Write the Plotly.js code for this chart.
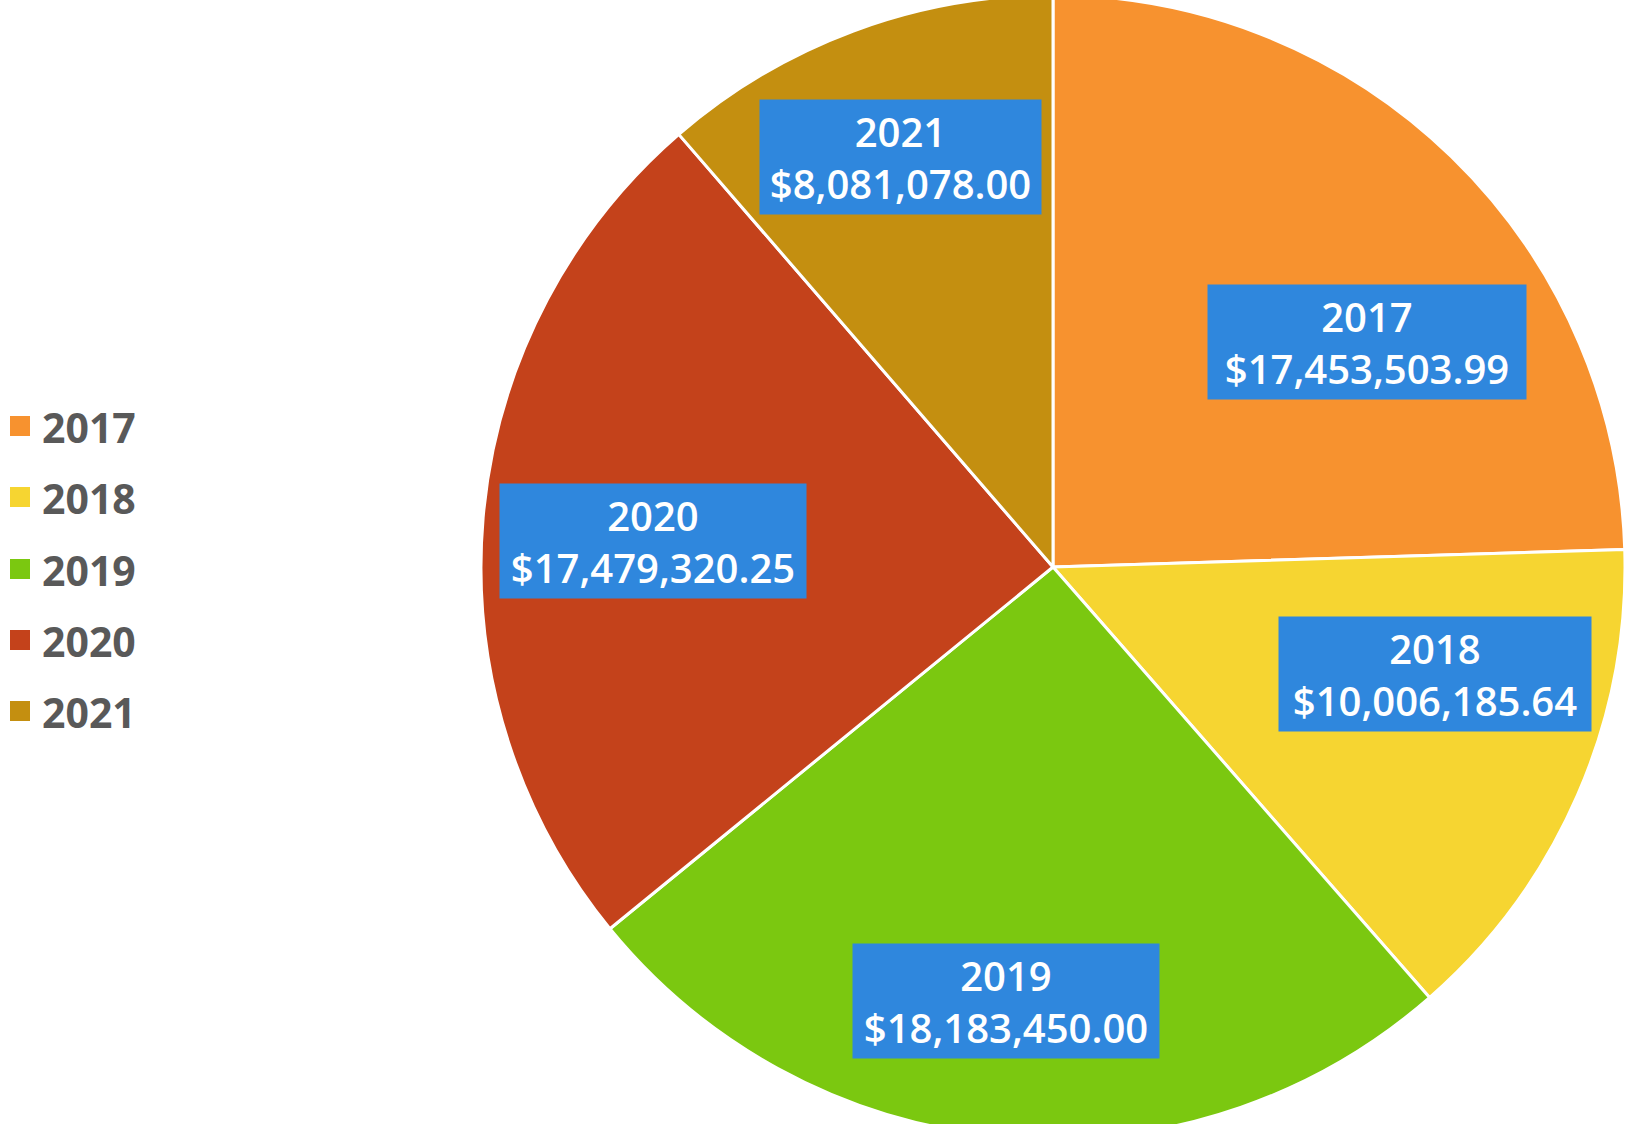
<!DOCTYPE html>
<html>
<head>
<meta charset="utf-8">
<script src="https://cdn.plot.ly/plotly-3.0.1.min.js"></script>
<style>
  html, body { margin: 0; padding: 0; background: #ffffff; overflow: hidden; }
  #chart { width: 1631px; height: 1144px; position: absolute; left: 0; top: -5px; }
</style>
</head>
<body>
<div id="chart"></div>
<script>
// datos del gráfico
const years = ['2017', '2018', '2019', '2020', '2021'];
const amounts = [17453503.99, 10006185.64, 18183450.00, 17479320.25, 8081078.00];
const sliceColors = ['#f7922f', '#f6d531', '#7bc810', '#c4421b', '#c48f10'];

// posiciones de las etiquetas (centro de cada caja, en píxeles de la página)
const labelBoxX = [1367, 1435, 1006, 653, 900];
const labelBoxY = [342, 674, 1001, 541, 157];
const labelBoxW = [318, 312, 306, 306, 281];

const W = 1631, H = 1144, TOP = -5;
const px = x => x / W;
const py = y => 1 - (y - TOP) / H;

const fmt = v => v.toLocaleString('en-US', {style: 'currency', currency: 'USD', minimumFractionDigits: 2});

const R = H / 2, CX = 1053;
const pie = {
    type: 'pie',
    labels: years,
    values: amounts,
    sort: false,
    direction: 'clockwise',
    rotation: 0,
    textinfo: 'none',
    hoverinfo: 'label+value',
    marker: {colors: sliceColors, line: {color: '#ffffff', width: 3}},
    domain: {x: [(CX - R) / W, Math.min(1, (CX + R) / W)], y: [0, 1]},
    showlegend: false
};

const annotations = [];
const shapes = [];

// cajas azules con año y monto
years.forEach((y, i) => {
    annotations.push({
        xref: 'paper', yref: 'paper',
        x: px(labelBoxX[i]), y: py(labelBoxY[i]),
        xanchor: 'center', yanchor: 'middle',
        showarrow: false,
        text: y + '<br>' + fmt(amounts[i]),
        width: labelBoxW[i],
        height: 114,
        bgcolor: '#2f87dd',
        borderpad: 0,
        font: {family: 'Open Sans, sans-serif', size: 40, color: '#ffffff', weight: 600}
    });
});

// leyenda manual a la izquierda
const legendY = [426, 497, 569, 640, 711];
years.forEach((y, i) => {
    shapes.push({
        type: 'rect', xref: 'paper', yref: 'paper',
        x0: px(10), x1: px(30),
        y0: py(legendY[i] + 10), y1: py(legendY[i] - 10),
        fillcolor: sliceColors[i], line: {width: 0}
    });
    annotations.push({
        xref: 'paper', yref: 'paper',
        x: px(40), y: py(legendY[i] + 1),
        xanchor: 'left', yanchor: 'middle',
        showarrow: false,
        text: y,
        font: {family: 'Open Sans, sans-serif', size: 41, color: '#595959', weight: 700}
    });
});

const layout = {
    width: W,
    height: H,
    margin: {l: 0, r: 0, t: 0, b: 0},
    paper_bgcolor: '#ffffff',
    annotations: annotations,
    shapes: shapes
};

Plotly.newPlot('chart', [pie], layout, {displayModeBar: false, staticPlot: true});
</script>
</body>
</html>
